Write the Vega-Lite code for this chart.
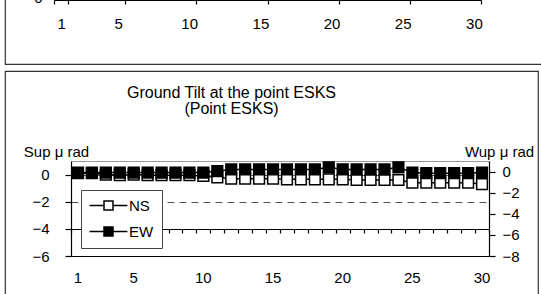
{
  "$schema": "https://vega.github.io/schema/vega-lite/v6.json",
  "padding": {"left": 4, "top": -17, "right": -8, "bottom": -18},
  "background": "white",
  "bounds": "flush",
  "datasets": {
    "tilt": [
      {"day": 1, "NS": 0.1, "EW": -0.1},
      {"day": 2, "NS": 0.1, "EW": -0.1},
      {"day": 3, "NS": 0.0, "EW": -0.1},
      {"day": 4, "NS": -0.05, "EW": -0.1},
      {"day": 5, "NS": 0.0, "EW": -0.1},
      {"day": 6, "NS": -0.05, "EW": -0.1},
      {"day": 7, "NS": -0.05, "EW": -0.1},
      {"day": 8, "NS": -0.05, "EW": -0.1},
      {"day": 9, "NS": -0.05, "EW": -0.1},
      {"day": 10, "NS": -0.1, "EW": -0.1},
      {"day": 11, "NS": -0.2, "EW": 0.05},
      {"day": 12, "NS": -0.3, "EW": 0.2},
      {"day": 13, "NS": -0.3, "EW": 0.2},
      {"day": 14, "NS": -0.3, "EW": 0.2},
      {"day": 15, "NS": -0.3, "EW": 0.2},
      {"day": 16, "NS": -0.35, "EW": 0.2},
      {"day": 17, "NS": -0.35, "EW": 0.2},
      {"day": 18, "NS": -0.35, "EW": 0.2},
      {"day": 19, "NS": -0.35, "EW": 0.4},
      {"day": 20, "NS": -0.35, "EW": 0.2},
      {"day": 21, "NS": -0.4, "EW": 0.2},
      {"day": 22, "NS": -0.4, "EW": 0.2},
      {"day": 23, "NS": -0.4, "EW": 0.2},
      {"day": 24, "NS": -0.4, "EW": 0.4},
      {"day": 25, "NS": -0.6, "EW": -0.1},
      {"day": 26, "NS": -0.6, "EW": -0.15},
      {"day": 27, "NS": -0.6, "EW": -0.15},
      {"day": 28, "NS": -0.6, "EW": -0.15},
      {"day": 29, "NS": -0.6, "EW": -0.15},
      {"day": 30, "NS": -0.7, "EW": -0.1}
    ]
  },
  "config": {
    "font": "Liberation Sans, Arial, sans-serif",
    "view": {"stroke": "#333", "strokeWidth": 1.2, "fill": "white"},
    "axis": {
      "labelFont": "Liberation Sans, Arial, sans-serif",
      "labelFontSize": 15,
      "labelColor": "black",
      "titleFont": "Liberation Sans, Arial, sans-serif",
      "titleFontSize": 15,
      "titleFontWeight": "normal",
      "titleColor": "black",
      "domainColor": "black",
      "domainWidth": 1.2,
      "tickColor": "black",
      "tickWidth": 1.2,
      "grid": false,
      "labelFlush": false,
      "labelOverlap": false
    },
    "legend": {
      "labelFont": "Liberation Sans, Arial, sans-serif",
      "labelFontSize": 15,
      "labelColor": "black"
    }
  },
  "spacing": 7,
  "vconcat": [
    {
      "width": 545,
      "height": 80,
      "data": {"name": "tilt"},
      "mark": {"type": "rule", "strokeOpacity": 0},
      "encoding": {
        "x": {
          "field": "day", "type": "ordinal", "bandPosition": 0.5,
          "scale": {"type": "band", "range": [49, 476], "paddingInner": 0, "paddingOuter": 0},
          "axis": {"orient": "bottom", "offset": -64, "title": null, "values": [1, 5, 10, 15, 20, 25, 30], "labelAngle": 0, "tickBand": "extent", "tickSize": 4, "labelPadding": 12, "domain": true}
        },
        "y": {
          "datum": 0, "type": "quantitative",
          "scale": {"domain": [0, 1], "range": [13, 0], "zero": false, "nice": false},
          "axis": {"orient": "left", "offset": -49, "title": null, "values": [0], "tickSize": 4, "labelPadding": 8}
        },
        "y2": {"datum": 0}
      }
    },
    {
      "width": 533,
      "height": 240,
      "title": {
        "text": ["Ground Tilt at the point ESKS", "(Point ESKS)"],
        "anchor": "middle",
        "frame": "group",
        "offset": -46,
        "dx": -40,
        "fontSize": 16,
        "fontWeight": "normal",
        "lineHeight": 16,
        "color": "black",
        "font": "Liberation Sans, Arial, sans-serif"
      },
      "data": {"name": "tilt"},
      "layer": [
        {
          "encoding": {
            "x": {
              "field": "day", "type": "ordinal", "bandPosition": 0.5,
              "scale": {"type": "band", "range": [66, 484], "paddingInner": 0, "paddingOuter": 0},
              "axis": {"orient": "bottom", "offset": -55, "title": null, "values": [1, 5, 10, 15, 20, 25, 30], "labelAngle": 0, "ticks": false, "domain": true, "labelPadding": 14}
            },
            "y": {
              "field": "NS", "type": "quantitative",
              "scale": {"domain": [-6, 1], "range": [185, 90], "zero": false, "nice": false},
              "axis": {
                "orient": "left", "offset": -66,
                "values": [-6, -4, -2, 0, 1],
                "labelExpr": "datum.value == 1 ? '' : datum.label",
                "tickSize": 6,
                "tickOpacity": {"condition": {"test": "datum.value == 1", "value": 0}, "value": 1},
                "labelPadding": 16,
                "grid": true,
                "gridColor": {"condition": {"test": "datum.value == 1", "value": "#999999"}, "value": "#555555"},
                "gridDash": {"condition": {"test": "datum.value == 1", "value": []}, "value": [7, 5]},
                "gridWidth": 1,
                "title": "Sup μ rad",
                "titleAngle": 0,
                "titleAlign": "center",
                "titleBaseline": "middle",
                "titleX": -15,
                "titleY": 80
              }
            }
          },
          "layer": [
            {"mark": {"type": "line", "color": "black", "strokeWidth": 1.5}},
            {
              "mark": {"type": "point", "shape": "square", "filled": true, "size": 115, "stroke": "black", "strokeWidth": 1.5, "opacity": 1},
              "encoding": {
                "fill": {
                  "datum": "NS", "type": "nominal",
                  "scale": {"domain": ["NS", "EW"], "range": ["white", "black"]},
                  "legend": {
                    "orient": "none", "legendX": 76, "legendY": 206,
                    "title": null, "fillColor": "white", "strokeColor": "#444",
                    "padding": 8, "rowPadding": 10,
                    "symbolType": "M-4.2,0H-1M1,0H4.2M-1,-1H1V1H-1Z",
                    "symbolSize": 81, "symbolStrokeWidth": 1.5, "symbolStrokeColor": "black",
                    "symbolOffset": 12, "labelOffset": 13,
                    "encode": {"symbols": {"update": {"stroke": {"value": "black"}, "strokeWidth": {"value": 1.5}, "opacity": {"value": 1}}}}
                  }
                }
              }
            }
          ]
        },
        {
          "encoding": {
            "x": {
              "field": "day", "type": "ordinal", "bandPosition": 0.5,
              "scale": {"type": "band", "range": [66, 484], "paddingInner": 0, "paddingOuter": 0},
              "axis": {"orient": "top", "offset": -158, "title": null, "labels": false, "tickBand": "extent", "tickSize": -4, "domain": true}
            },
            "y": {
              "field": "EW", "type": "quantitative",
              "scale": {"domain": [-8, 1], "range": [185, 90], "zero": false, "nice": false},
              "axis": {
                "orient": "right", "offset": -49,
                "values": [-8, -6, -4, -2, 0],
                "tickSize": 6,
                "labelPadding": 7,
                "title": "Wup μ rad",
                "titleAngle": 0,
                "titleAlign": "center",
                "titleBaseline": "middle",
                "titleX": 10,
                "titleY": 80
              }
            }
          },
          "layer": [
            {"mark": {"type": "line", "color": "black", "strokeWidth": 1.5}},
            {
              "mark": {"type": "point", "shape": "square", "filled": true, "size": 115, "stroke": "black", "strokeWidth": 1.5, "opacity": 1},
              "encoding": {
                "fill": {"datum": "EW", "type": "nominal"}
              }
            }
          ]
        }
      ],
      "resolve": {"scale": {"y": "independent"}, "axis": {"x": "independent", "y": "independent"}}
    }
  ]
}
